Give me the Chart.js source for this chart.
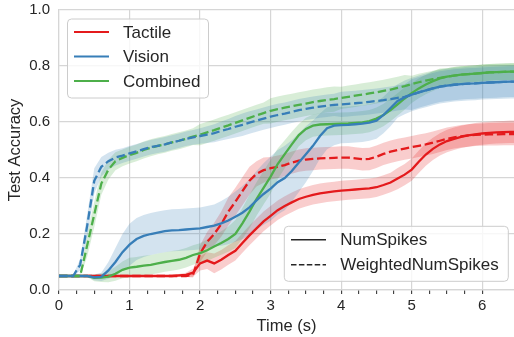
<!DOCTYPE html>
<html>
<head>
<meta charset="utf-8">
<script src="https://cdn.jsdelivr.net/npm/chart.js@4"></script>
<style>
html,body{margin:0;padding:0;background:#fff;}
#wrap{width:514px;height:337px;}
</style>
</head>
<body>
<div id="wrap"><canvas id="c" width="514" height="337"></canvas></div>
<script>
const time = [0,0.1,0.2,0.3,0.4,0.5,0.6,0.7,0.8,0.9,1.0,1.1,1.2,1.3,1.4,1.5,1.6,1.7,1.8,1.9,2.0,2.1,2.2,2.3,2.4,2.5,2.6,2.7,2.8,2.9,3.0,3.1,3.2,3.3,3.4,3.5,3.6,3.7,3.8,3.9,4.0,4.1,4.2,4.3,4.4,4.5,4.6,4.7,4.8,4.9,5.0,5.1,5.2,5.3,5.4,5.5,5.6,5.7,5.8,5.9,6.0,6.1,6.2,6.3,6.4,6.45];

const tactileNS = [0.05,0.05,0.05,0.05,0.05,0.05,0.05,0.05,0.05,0.05,0.05,0.05,0.05,0.05,0.05,0.05,0.05,0.052,0.054,0.062,0.095,0.105,0.095,0.108,0.125,0.14,0.168,0.195,0.22,0.245,0.265,0.285,0.3,0.313,0.325,0.333,0.34,0.345,0.349,0.352,0.355,0.357,0.359,0.361,0.363,0.367,0.375,0.384,0.398,0.412,0.43,0.458,0.484,0.504,0.52,0.532,0.54,0.547,0.552,0.556,0.559,0.561,0.563,0.564,0.565,0.565];
const tactileNSstd = [0.004,0.004,0.004,0.004,0.004,0.004,0.004,0.004,0.004,0.004,0.004,0.004,0.004,0.004,0.004,0.004,0.004,0.005,0.008,0.015,0.025,0.03,0.035,0.035,0.035,0.035,0.035,0.035,0.035,0.035,0.035,0.035,0.035,0.035,0.035,0.035,0.035,0.035,0.035,0.035,0.035,0.035,0.035,0.035,0.035,0.035,0.035,0.035,0.038,0.038,0.04,0.04,0.04,0.04,0.04,0.04,0.04,0.04,0.04,0.04,0.04,0.04,0.04,0.04,0.04,0.04];
const tactileWNS = [0.05,0.05,0.05,0.05,0.05,0.05,0.05,0.05,0.05,0.05,0.05,0.05,0.05,0.05,0.05,0.05,0.05,0.05,0.05,0.055,0.13,0.172,0.2,0.235,0.28,0.315,0.353,0.39,0.415,0.428,0.435,0.44,0.446,0.455,0.462,0.466,0.468,0.47,0.471,0.472,0.473,0.473,0.47,0.467,0.468,0.476,0.486,0.494,0.5,0.505,0.51,0.515,0.52,0.526,0.533,0.54,0.545,0.549,0.552,0.554,0.555,0.556,0.556,0.557,0.557,0.557];
const tactileWNSstd = [0.004,0.004,0.004,0.004,0.004,0.004,0.004,0.004,0.004,0.004,0.004,0.004,0.004,0.004,0.004,0.004,0.004,0.004,0.004,0.01,0.03,0.035,0.04,0.045,0.05,0.05,0.05,0.05,0.045,0.045,0.04,0.04,0.04,0.04,0.04,0.04,0.04,0.04,0.04,0.04,0.04,0.04,0.04,0.04,0.04,0.04,0.04,0.04,0.04,0.04,0.04,0.04,0.04,0.04,0.04,0.04,0.04,0.04,0.04,0.04,0.04,0.04,0.04,0.04,0.04,0.04];

const visionNS = [0.05,0.05,0.05,0.05,0.05,0.045,0.047,0.07,0.1,0.135,0.162,0.182,0.193,0.2,0.205,0.21,0.213,0.214,0.216,0.218,0.22,0.225,0.23,0.238,0.248,0.262,0.276,0.295,0.32,0.343,0.362,0.385,0.4,0.425,0.455,0.485,0.515,0.55,0.578,0.587,0.589,0.59,0.592,0.594,0.598,0.605,0.625,0.65,0.675,0.688,0.698,0.706,0.713,0.72,0.726,0.73,0.733,0.735,0.737,0.738,0.74,0.741,0.742,0.743,0.744,0.744];
const visionNSstd = [0.004,0.004,0.004,0.004,0.004,0.01,0.015,0.03,0.05,0.065,0.075,0.075,0.075,0.075,0.075,0.075,0.075,0.075,0.075,0.075,0.075,0.075,0.075,0.08,0.085,0.09,0.095,0.1,0.105,0.11,0.115,0.115,0.115,0.11,0.105,0.1,0.09,0.08,0.075,0.07,0.065,0.065,0.065,0.065,0.065,0.065,0.065,0.065,0.06,0.06,0.06,0.06,0.06,0.06,0.06,0.06,0.06,0.06,0.06,0.06,0.06,0.06,0.06,0.06,0.06,0.06];
const visionWNS = [0.05,0.05,0.05,0.09,0.23,0.39,0.44,0.46,0.473,0.48,0.488,0.495,0.503,0.51,0.515,0.52,0.527,0.533,0.54,0.545,0.55,0.555,0.56,0.568,0.575,0.583,0.59,0.598,0.605,0.612,0.619,0.625,0.63,0.636,0.642,0.647,0.651,0.655,0.658,0.661,0.663,0.665,0.667,0.669,0.672,0.675,0.678,0.682,0.686,0.69,0.698,0.706,0.713,0.72,0.726,0.73,0.733,0.735,0.737,0.738,0.74,0.741,0.742,0.743,0.744,0.744];
const visionWNSstd = [0.004,0.004,0.004,0.02,0.04,0.045,0.035,0.03,0.028,0.026,0.026,0.026,0.026,0.026,0.026,0.026,0.026,0.026,0.026,0.026,0.028,0.03,0.032,0.034,0.036,0.038,0.04,0.04,0.04,0.04,0.04,0.04,0.04,0.04,0.04,0.04,0.04,0.04,0.04,0.04,0.045,0.045,0.045,0.045,0.045,0.045,0.045,0.045,0.045,0.045,0.055,0.055,0.055,0.055,0.055,0.055,0.055,0.055,0.055,0.055,0.055,0.055,0.055,0.055,0.055,0.055];

const combinedNS = [0.05,0.05,0.05,0.05,0.05,0.043,0.044,0.048,0.058,0.072,0.08,0.083,0.087,0.09,0.095,0.1,0.104,0.108,0.115,0.125,0.132,0.142,0.155,0.168,0.182,0.2,0.238,0.28,0.325,0.365,0.405,0.45,0.485,0.52,0.553,0.575,0.587,0.591,0.592,0.593,0.594,0.595,0.597,0.599,0.603,0.612,0.625,0.643,0.663,0.684,0.703,0.72,0.734,0.746,0.756,0.762,0.766,0.769,0.771,0.773,0.775,0.777,0.778,0.779,0.78,0.78];
const combinedNSstd = [0.004,0.004,0.004,0.004,0.004,0.012,0.015,0.02,0.025,0.03,0.035,0.035,0.035,0.035,0.035,0.035,0.035,0.035,0.035,0.035,0.035,0.038,0.04,0.042,0.045,0.05,0.055,0.06,0.06,0.06,0.06,0.055,0.05,0.045,0.04,0.04,0.04,0.04,0.04,0.04,0.04,0.04,0.04,0.04,0.04,0.04,0.04,0.04,0.04,0.04,0.035,0.035,0.035,0.035,0.035,0.03,0.03,0.03,0.03,0.03,0.03,0.03,0.03,0.03,0.03,0.03];
const combinedWNS = [0.05,0.05,0.05,0.05,0.16,0.27,0.38,0.43,0.46,0.472,0.482,0.49,0.5,0.508,0.515,0.52,0.527,0.533,0.54,0.548,0.555,0.563,0.571,0.58,0.588,0.597,0.606,0.615,0.624,0.632,0.64,0.646,0.651,0.656,0.661,0.666,0.671,0.675,0.679,0.682,0.686,0.69,0.694,0.698,0.702,0.706,0.711,0.716,0.722,0.728,0.735,0.742,0.748,0.753,0.758,0.762,0.766,0.769,0.771,0.773,0.775,0.777,0.778,0.779,0.78,0.78];
const combinedWNSstd = [0.004,0.004,0.004,0.004,0.04,0.045,0.04,0.035,0.032,0.03,0.03,0.03,0.03,0.03,0.03,0.03,0.03,0.03,0.03,0.03,0.038,0.038,0.038,0.038,0.038,0.038,0.038,0.038,0.038,0.038,0.045,0.045,0.045,0.045,0.045,0.045,0.045,0.045,0.045,0.045,0.04,0.04,0.04,0.04,0.04,0.04,0.04,0.04,0.04,0.04,0.03,0.03,0.03,0.03,0.03,0.03,0.03,0.03,0.03,0.03,0.03,0.03,0.03,0.03,0.03,0.03];

const modalityLabels = ['Tactile', 'Vision', 'Combined'];
const methodLabels = ['NumSpikes', 'WeightedNumSpikes'];
const yTicks = [0, 0.2, 0.4, 0.6, 0.8, 1.0];
const xTickLabels = [0, 1, 2, 3, 4, 5, 6];

const COLORS = {Tactile: '#e41a1c', Vision: '#377eb8', Combined: '#4daf4a'};
function rgba(hex, a) {
  const n = parseInt(hex.slice(1), 16);
  return `rgba(${(n>>16)&255},${(n>>8)&255},${n&255},${a})`;
}
const DASH = [8.5, 3.7];

const datasets = [];
function addSeries(name, mean, std, dashed) {
  const col = COLORS[name];
  const lower = time.map((t, i) => ({x: t, y: mean[i] - std[i]}));
  const upper = time.map((t, i) => ({x: t, y: mean[i] + std[i]}));
  const line = time.map((t, i) => ({x: t, y: mean[i]}));
  datasets.push({data: lower, borderWidth: 0, borderColor: 'transparent', pointRadius: 0, fill: false, order: 10, tension: 0});
  datasets.push({data: upper, borderWidth: 0, borderColor: 'transparent', pointRadius: 0, fill: '-1', backgroundColor: rgba(col, 0.22), order: 10, tension: 0});
  datasets.push({label: name, data: line, borderColor: col, borderWidth: 2.3, borderDash: dashed ? DASH : [], pointRadius: 0, fill: false, order: 0, tension: 0});
}
addSeries('Vision', visionWNS, visionWNSstd, true);
addSeries('Combined', combinedWNS, combinedWNSstd, true);
addSeries('Vision', visionNS, visionNSstd, false);
addSeries('Combined', combinedNS, combinedNSstd, false);
addSeries('Tactile', tactileWNS, tactileWNSstd, true);
addSeries('Tactile', tactileNS, tactileNSstd, false);

const FONT = '"Liberation Sans", Arial, sans-serif';
const TXT = '#262626';
const GRID = '#d6d6d6';

function roundRect(ctx, x, y, w, h, r) {
  ctx.beginPath();
  ctx.moveTo(x + r, y);
  ctx.lineTo(x + w - r, y);
  ctx.arcTo(x + w, y, x + w, y + r, r);
  ctx.lineTo(x + w, y + h - r);
  ctx.arcTo(x + w, y + h, x + w - r, y + h, r);
  ctx.lineTo(x + r, y + h);
  ctx.arcTo(x, y + h, x, y + h - r, r);
  ctx.lineTo(x, y + r);
  ctx.arcTo(x, y, x + r, y, r);
  ctx.closePath();
}

const legendsPlugin = {
  id: 'twoLegends',
  afterDraw(chart) {
    const ctx = chart.ctx;
    const a = chart.chartArea;
    ctx.save();
    ctx.font = '17px ' + FONT;
    ctx.textBaseline = 'middle';
    ctx.textAlign = 'left';
    // legend 1: modalities
    let bx = a.left + 8.5, by = a.top + 9, bw = 141, bh = 79;
    roundRect(ctx, bx, by, bw, bh, 4);
    ctx.fillStyle = 'rgba(255,255,255,0.8)';
    ctx.fill();
    ctx.strokeStyle = '#cccccc';
    ctx.lineWidth = 1;
    ctx.stroke();
    modalityLabels.forEach((lab, i) => {
      const y = by + 13 + i * 24.5;
      ctx.strokeStyle = COLORS[lab];
      ctx.lineWidth = 2;
      ctx.setLineDash([]);
      ctx.beginPath();
      ctx.moveTo(bx + 6.5, y);
      ctx.lineTo(bx + 41.5, y);
      ctx.stroke();
      ctx.fillStyle = TXT;
      ctx.fillText(lab, bx + 55.5, y + 1);
    });
    // legend 2: methods
    bw = 224; bh = 55;
    bx = a.right - 5.7 - bw; by = a.bottom - 8.7 - bh;
    roundRect(ctx, bx, by, bw, bh, 4);
    ctx.fillStyle = 'rgba(255,255,255,0.8)';
    ctx.fill();
    ctx.strokeStyle = '#cccccc';
    ctx.lineWidth = 1;
    ctx.stroke();
    methodLabels.forEach((lab, i) => {
      const y = by + 13.5 + i * 25;
      ctx.strokeStyle = '#262626';
      ctx.lineWidth = 1.6;
      ctx.setLineDash(i === 1 ? [5.5, 2.4] : []);
      ctx.beginPath();
      ctx.moveTo(bx + 6.7, y);
      ctx.lineTo(bx + 41.7, y);
      ctx.stroke();
      ctx.setLineDash([]);
      ctx.fillStyle = TXT;
      ctx.fillText(lab, bx + 56, y + 1);
    });
    ctx.restore();
  }
};

new Chart(document.getElementById('c'), {
  type: 'line',
  data: {datasets},
  plugins: [legendsPlugin],
  options: {
    responsive: false,
    animation: false,
    layout: {padding: {top: 10, left: 0, right: 0, bottom: 0}},
    plugins: {legend: {display: false}, tooltip: {enabled: false}},
    scales: {
      x: {
        type: 'linear',
        min: 0,
        max: 6.45,
        afterBuildTicks(scale) {
          scale.ticks = scale.ticks.filter(t => Math.abs(t.value * 4 - Math.round(t.value * 4)) < 1e-6);
        },
        afterFit(scale) { scale.height = 47; scale.paddingLeft = 0; scale.paddingRight = 0; },
        ticks: {
          stepSize: 0.25,
          autoSkip: false,
          maxRotation: 0,
          padding: 3,
          color: TXT,
          font: {family: FONT, size: 15},
          callback(v) {
            const r = Math.round(v);
            return (Math.abs(v - r) < 1e-6 && xTickLabels.includes(r)) ? String(r) : '';
          }
        },
        grid: {
          color(c) {
            const v = c.tick ? c.tick.value : 0;
            return Math.abs(v - Math.round(v)) < 1e-6 ? GRID : 'rgba(0,0,0,0)';
          },
          lineWidth: 1.2,
          drawTicks: true,
          tickLength: 4,
          tickColor: '#3a3a3a',
          tickWidth: 1.1
        },
        border: {display: true, color: GRID, width: 1.2},
        title: {display: true, text: 'Time (s)', color: TXT, font: {family: FONT, size: 16.5}, padding: {top: 0, bottom: 1}}
      },
      y: {
        min: 0,
        max: 1,
        afterBuildTicks(scale) {
          scale.ticks = yTicks.map(v => ({value: v}));
        },
        afterFit(scale) { scale.width = 59; scale.paddingTop = 0; scale.paddingBottom = 0; },
        ticks: {
          padding: 9,
          color: TXT,
          font: {family: FONT, size: 15},
          callback(v) { return Number(v).toFixed(1); }
        },
        grid: {color: GRID, lineWidth: 1.2, drawTicks: false},
        border: {display: true, color: GRID, width: 1.2},
        title: {display: true, text: 'Test Accuracy', color: TXT, font: {family: FONT, size: 16.5}, padding: {top: 6, bottom: 0}}
      }
    }
  }
});
</script>
</body>
</html>
